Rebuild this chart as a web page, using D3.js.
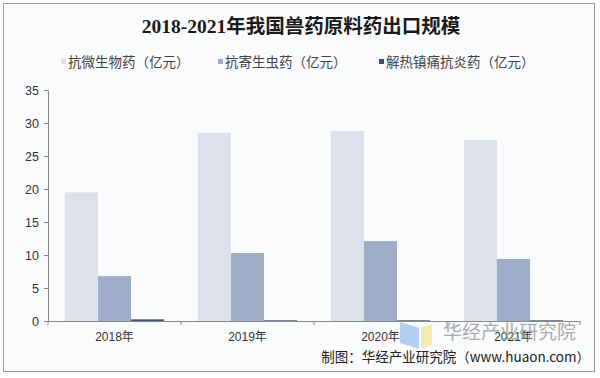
<!DOCTYPE html>
<html>
<head>
<meta charset="utf-8">
<script src="https://cdn.jsdelivr.net/npm/d3@7/dist/d3.min.js"></script>
<style>
  body { margin: 0; background: #ffffff; }
  svg { display: block; }
</style>
</head>
<body>
<div id="chart"></div>
<script>
// data
var years = ["2018年", "2019年", "2020年", "2021年"];
var seriesNames = ["抗微生物药（亿元）", "抗寄生虫药（亿元）", "解热镇痛抗炎药（亿元）"];
var antimicrobial = [19.5, 28.5, 28.8, 27.4];
var antiparasitic = [6.8, 10.3, 12.1, 9.4];
var antipyretic = [0.25, 0.1, 0.1, 0.1];
var yTicks = [0, 5, 10, 15, 20, 25, 30, 35];
var colors = ["#dce1eb", "#9eaec8", "#404f72"];

var W = 600, H = 378;
var margin = {top: 90, right: 20, bottom: 57, left: 48},
    width = W - margin.left - margin.right,
    height = H - margin.top - margin.bottom;

var svg = d3.select("#chart")
  .append("svg")
    .attr("width", W)
    .attr("height", H);

// panel background + border
svg.append("rect")
    .attr("x", 3.5).attr("y", 3.5)
    .attr("width", 591).attr("height", 368)
    .attr("fill", "#fafbfd")
    .attr("stroke", "#9a9a9a")
    .attr("stroke-width", 1);

// title
svg.append("text")
    .attr("x", 301).attr("y", 33)
    .attr("text-anchor", "middle")
    .style("font-family", "'Liberation Serif', 'Noto Sans CJK SC', serif")
    .style("font-weight", "bold")
    .style("font-size", "19.5px")
    .style("fill", "#1a1a1a")
    .text("2018-2021年我国兽药原料药出口规模");

// legend
var legendX = [64, 221, 382];
var legend = svg.selectAll(".legend")
  .data(seriesNames)
  .enter()
  .append("g")
    .attr("transform", function(d, i) { return "translate(" + legendX[i] + ",62)"; });
legend.append("rect")
    .attr("x", -3).attr("y", -3)
    .attr("width", 5).attr("height", 5)
    .attr("fill", function(d, i) { return colors[i]; });
legend.append("text")
    .attr("x", 4).attr("y", 5)
    .style("font-family", "'Noto Sans CJK SC', sans-serif")
    .style("font-size", "13.5px")
    .style("fill", "#444")
    .text(function(d) { return d; });

var g = svg.append("g")
    .attr("transform", "translate(" + margin.left + "," + margin.top + ")");

// scales
var x = d3.scaleBand()
    .domain(years)
    .range([0, width])
    .paddingInner(0)
    .paddingOuter(0);

var xInner = d3.scaleBand()
    .domain(d3.range(seriesNames.length))
    .range([0, x.bandwidth()])
    .paddingOuter(0.17 * 3)
    .paddingInner(0);

var y = d3.scaleLinear()
    .domain([0, 35])
    .range([height, 0]);

// bars
var seriesValues = [antimicrobial, antiparasitic, antipyretic];
var rows = [];
years.forEach(function(yr, i) {
  seriesValues.forEach(function(vals, s) {
    rows.push({year: yr, s: s, v: vals[i]});
  });
});

g.selectAll(".bar")
  .data(rows)
  .enter()
  .append("rect")
    .attr("x", function(d) { return x(d.year) + xInner(d.s); })
    .attr("y", function(d) { return y(d.v); })
    .attr("width", xInner.bandwidth())
    .attr("height", function(d) { return Math.max(1, height - y(d.v)); })
    .attr("fill", function(d) { return colors[d.s]; });

// y axis
var yAxis = g.append("g")
    .call(d3.axisLeft(y).tickValues(yTicks).tickSize(4).tickSizeOuter(0));
yAxis.selectAll("text")
    .attr("x", -9)
    .style("font-family", "'Liberation Sans', Arial, sans-serif")
    .style("font-size", "12.5px")
    .style("fill", "#333");

// x axis with ticks between the categories
var xAxis = g.append("g")
    .attr("transform", "translate(0," + height + ")")
    .call(d3.axisBottom(x).tickSize(0).tickPadding(11));
xAxis.selectAll("text")
    .style("font-family", "'Liberation Sans', 'Noto Sans CJK SC', sans-serif")
    .style("font-size", "12px")
    .style("fill", "#333");
xAxis.selectAll(".sep")
  .data(years.concat(["end"]))
  .enter()
  .append("line")
    .attr("class", "sep")
    .attr("x1", function(d, i) { return i * x.step(); })
    .attr("x2", function(d, i) { return i * x.step(); })
    .attr("y1", 0).attr("y2", 4)
    .attr("stroke", "#888");

g.selectAll(".domain").attr("stroke", "#888");
g.selectAll(".tick line").attr("stroke", "#888");

// watermark logo + text
var wm = svg.append("g").attr("opacity", 0.85);
wm.append("path")
    .attr("d", "M400,322 L419,328 L419,349 L400,343 Z")
    .attr("fill", "#a9c8ee");
wm.append("path")
    .attr("d", "M421,328 L432,324 L432,345 L421,349 Z")
    .attr("fill", "#f6e7a3");
wm.append("text")
    .attr("x", 443).attr("y", 339)
    .style("font-family", "'Noto Sans CJK SC', sans-serif")
    .style("font-size", "19px")
    .style("fill", "#9c9c9c")
    .text("华经产业研究院");

// source note
svg.append("text")
    .attr("x", 590).attr("y", 362)
    .attr("text-anchor", "end")
    .style("font-family", "'Noto Sans CJK SC', sans-serif")
    .style("font-size", "13.5px")
    .style("fill", "#222")
    .text("制图：华经产业研究院（www.huaon.com）");
</script>
</body>
</html>
